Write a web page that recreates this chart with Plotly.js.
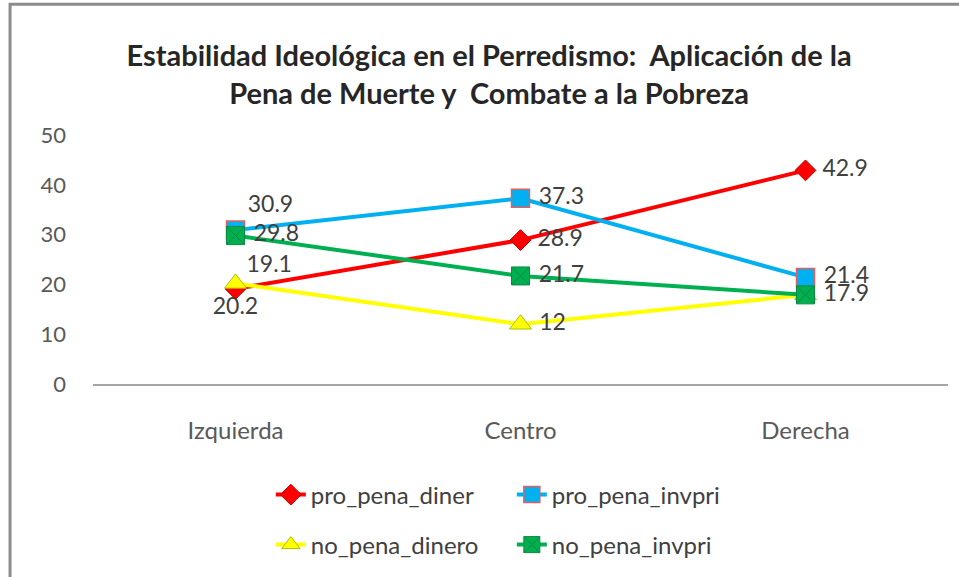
<!DOCTYPE html>
<html>
<head>
<meta charset="utf-8">
<script src="https://cdn.plot.ly/plotly-3.0.1.min.js"></script>
<style>html,body{margin:0;padding:0;background:#fff;}#chart{width:959px;height:577px;}</style>
</head>
<body>
<div id="chart"></div>
<script>
const categories = ["Izquierda", "Centro", "Derecha"];
const seriesNames = ["pro_pena_diner", "pro_pena_invpri", "no_pena_dinero", "no_pena_invpri"];
const proPenaDiner = [19.1, 28.9, 42.9];
const proPenaInvpri = [30.9, 37.3, 21.4];
const noPenaDinero = [20.2, 12, 17.9];
const noPenaInvpri = [29.8, 21.7, 17.9];
const yTicks = [0, 10, 20, 30, 40, 50];

const FONT = "Lato, 'Open Sans', sans-serif";
const labelFont = {family: FONT, size: 23, color: "#404040"};
const GAP = "\u00A0";
// label text per point: extra gap for labels placed to the right
function lbl(arr, pos, hide) {
  return arr.map((v, i) => (hide && hide[i]) ? "" : ((pos[i] === "middle right" ? GAP : "") + String(v)));
}

const pos0 = ["top right", "middle right", "middle right"];
const pos1 = ["top right", "middle right", "middle right"];
const pos2 = ["bottom center", "middle right", "middle right"];
const pos3 = ["middle right", "middle right", "middle right"];

const traces = [
  {
    x: categories, y: proPenaDiner, name: seriesNames[0], type: "scatter",
    mode: "lines+markers+text", text: lbl(proPenaDiner, pos0),
    textposition: pos0, textfont: labelFont, cliponaxis: false,
    line: {color: "#FF0000", width: 4},
    marker: {symbol: "diamond", size: 16, color: "#FF0000", line: {color: "#C00000", width: 1}},
    legend: "legend"
  },
  {
    x: categories, y: proPenaInvpri, name: seriesNames[1], type: "scatter",
    mode: "lines+markers+text", text: lbl(proPenaInvpri, pos1),
    textposition: pos1, textfont: labelFont, cliponaxis: false,
    line: {color: "#00B0F0", width: 4},
    marker: {symbol: "square", size: 18, color: "#00B0F0", line: {color: "#E06060", width: 1.5}},
    legend: "legend"
  },
  {
    x: categories, y: noPenaDinero, name: seriesNames[2], type: "scatter",
    mode: "lines+markers+text", text: lbl(noPenaDinero, pos2, [false, false, true]),
    textposition: pos2, textfont: labelFont, cliponaxis: false,
    line: {color: "#FFFF00", width: 4},
    marker: {symbol: "triangle-up", size: 19, color: "#FFFF00", line: {color: "#A8C000", width: 1}},
    legend: "legend2"
  },
  {
    x: categories, y: noPenaInvpri, name: seriesNames[3], type: "scatter",
    mode: "lines+markers+text", text: lbl(noPenaInvpri, pos3),
    textposition: pos3, textfont: labelFont, cliponaxis: false,
    line: {color: "#00B050", width: 4},
    marker: {symbol: "square-x", size: 18, color: "#00B050", line: {color: "#0A8A40", width: 1}},
    legend: "legend2"
  }
];

const legendFont = {family: FONT, size: 24, color: "#404040"};
const layout = {
  width: 959, height: 577,
  paper_bgcolor: "#ffffff", plot_bgcolor: "#ffffff",
  margin: {l: 93, r: 11, t: 135, b: 192},
  font: {family: FONT, color: "#595959"},
  title: {
    text: "<b>Estabilidad Ideológica en el Perredismo:  Aplicación de la<br>Pena de Muerte y  Combate a la Pobreza</b>",
    font: {family: FONT, size: 29, color: "#262626"},
    x: 0.51, xanchor: "center", y: 0.885, yanchor: "middle"
  },
  xaxis: {
    type: "category", range: [-0.5, 2.5],
    showgrid: false, zeroline: false,
    showline: true, linecolor: "#A6A6A6", linewidth: 2,
    ticks: "", ticklabelstandoff: 24,
    tickfont: {family: FONT, size: 24, color: "#595959"}
  },
  yaxis: {
    range: [0, 50], tickvals: yTicks, ticktext: yTicks.map(String),
    showgrid: false, zeroline: false, showline: false,
    ticks: "", ticklabelstandoff: 26,
    tickfont: {family: FONT, size: 22, color: "#595959"}
  },
  showlegend: true,
  legend: {
    orientation: "h", x: 0.208, xanchor: "left", y: -0.44, yanchor: "middle",
    entrywidth: 196, entrywidthmode: "pixels", font: legendFont,
    bgcolor: "rgba(0,0,0,0)"
  },
  legend2: {
    orientation: "h", x: 0.208, xanchor: "left", y: -0.64, yanchor: "middle",
    entrywidth: 196, entrywidthmode: "pixels", font: legendFont,
    bgcolor: "rgba(0,0,0,0)"
  },
  shapes: [
    {type: "rect", xref: "paper", yref: "paper", x0: -0.097, x1: 1.05, y0: -0.8, y1: 1.525,
     line: {color: "#8C8C8C", width: 3}, fillcolor: "rgba(0,0,0,0)", layer: "below"}
  ]
};

Plotly.newPlot("chart", traces, layout, {displayModeBar: false, staticPlot: true});
</script>
</body>
</html>
